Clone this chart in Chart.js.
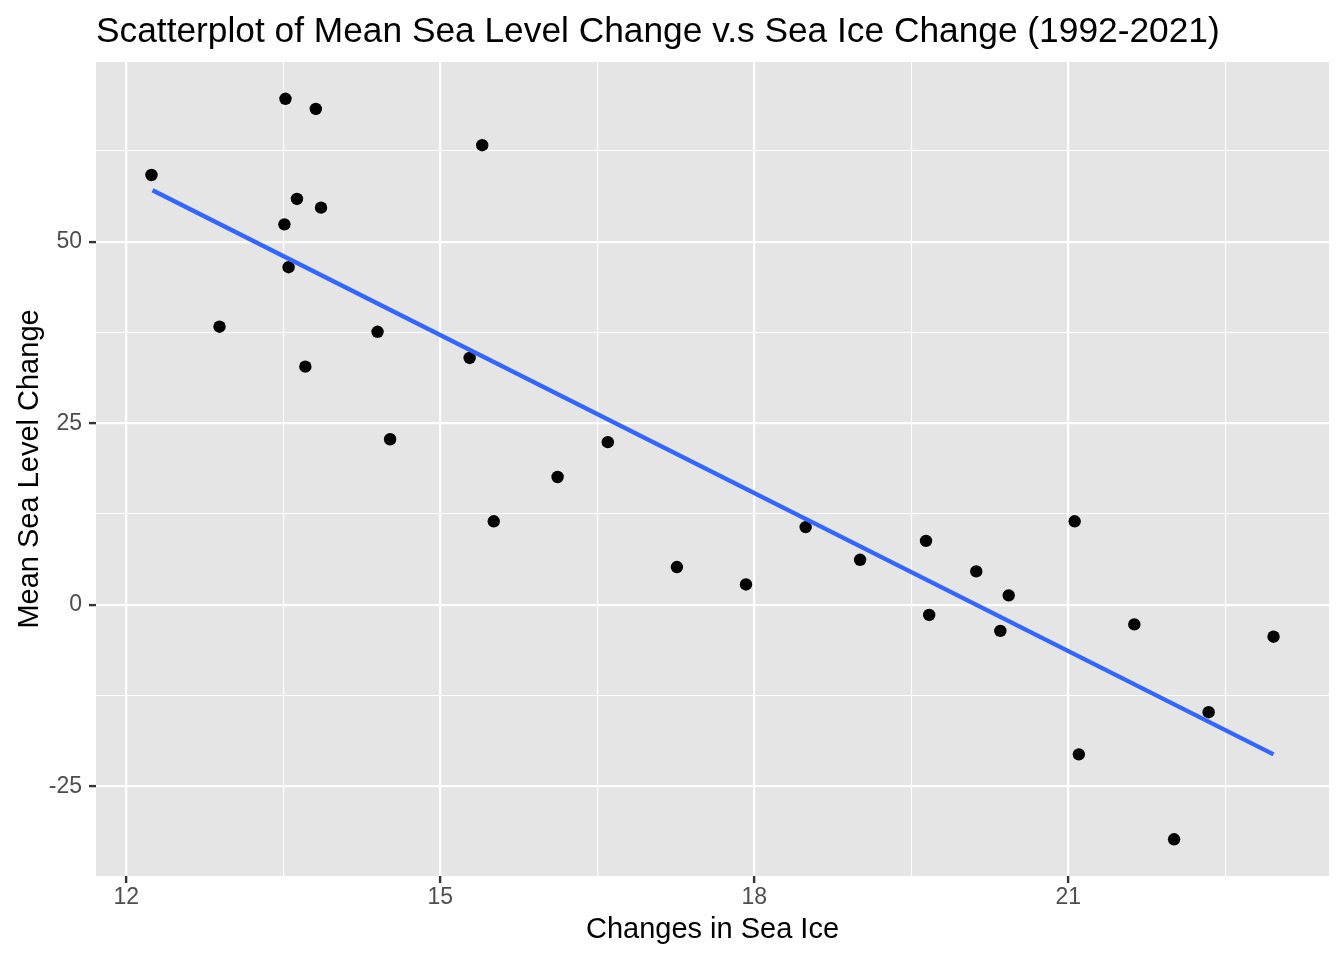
<!DOCTYPE html>
<html>
<head>
<meta charset="utf-8">
<script src="https://cdn.jsdelivr.net/npm/chart.js@4/dist/chart.umd.min.js"></script>
<style>
  html, body { margin: 0; padding: 0; background: #fff; }
  #wrap { width: 1344px; height: 960px; position: relative; }
</style>
</head>
<body>
<div id="wrap"><canvas id="chart"></canvas></div>
<script>
// values
const seaIce = [12.24, 12.89, 13.52, 13.51, 13.55, 13.63, 13.71, 13.81, 13.86, 14.40,
  14.52, 15.28, 15.40, 15.51, 16.12, 16.60, 17.26, 17.92, 18.49, 19.01,
  19.64, 19.67, 20.12, 20.35, 20.43, 21.06, 21.10, 21.63, 22.01, 22.34, 22.96];
const seaLevel = [59.2, 38.3, 69.7, 52.4, 46.5, 55.9, 32.8, 68.3, 54.7, 37.6,
  22.8, 34.0, 63.3, 11.5, 17.6, 22.4, 5.2, 2.8, 10.7, 6.2,
  8.8, -1.4, 4.6, -3.6, 1.3, 11.5, -20.6, -2.7, -32.3, -14.8, -4.4];

// fitted line end points
const fitX = [12.25, 22.96];
const fitY = [57.1, -20.6];

const xMajorTicks = [12, 15, 18, 21];
const xMinorTicks = [13.5, 16.5, 19.5, 22.5];
const yMajorTicks = [-25, 0, 25, 50];
const yMinorTicks = [-12.5, 12.5, 37.5, 62.5];

const FONT = "'Liberation Sans', Arial, Helvetica, sans-serif";
Chart.defaults.font.family = FONT;

const panelBg = {
  id: 'panelBg',
  beforeDraw(chart) {
    const { ctx, chartArea } = chart;
    ctx.save();
    ctx.fillStyle = '#E5E5E5';
    ctx.fillRect(chartArea.left, chartArea.top, chartArea.right - chartArea.left, chartArea.bottom - chartArea.top);
    ctx.restore();
  }
};

function setTicks(major, minor) {
  return function(scale) {
    scale.ticks = major.concat(minor).sort((a, b) => a - b).map(v => ({ value: v }));
  };
}

function isMajor(list) {
  return ctx => ctx.tick && list.includes(ctx.tick.value);
}

const xMaj = isMajor(xMajorTicks);
const yMaj = isMajor(yMajorTicks);

new Chart(document.getElementById('chart'), {
  type: 'scatter',
  data: {
    datasets: [
      {
        label: 'fit',
        type: 'line',
        data: fitX.map((x, i) => ({ x: x, y: fitY[i] })),
        borderColor: '#3366FF',
        borderWidth: 4.3,
        pointRadius: 0,
        fill: false,
        order: 0
      },
      {
        label: 'points',
        data: seaIce.map((x, i) => ({ x: x, y: seaLevel[i] })),
        backgroundColor: '#000000',
        borderWidth: 0,
        pointRadius: 6.2,
        order: 1
      }
    ]
  },
  options: {
    responsive: true,
    maintainAspectRatio: false,
    animation: false,
    layout: { padding: { left: 0, right: 15, top: 0, bottom: 0 } },
    plugins: {
      legend: { display: false },
      tooltip: { enabled: false },
      title: {
        display: true,
        text: 'Scatterplot of Mean Sea Level Change v.s Sea Ice Change (1992-2021)',
        align: 'start',
        fullSize: false,
        color: '#000000',
        font: { size: 35.3, weight: 'normal' },
        padding: { top: 11, bottom: 8.6 }
      }
    },
    scales: {
      x: {
        type: 'linear',
        min: 11.71,
        max: 23.49,
        afterBuildTicks: setTicks(xMajorTicks, xMinorTicks),
        afterFit: scale => { scale.height = 84; },
        border: { display: false },
        grid: {
          color: '#FFFFFF',
          lineWidth: ctx => xMaj(ctx) ? 2.2 : 1.1,
          drawTicks: true,
          tickLength: 7,
          tickWidth: 2.4,
          tickColor: ctx => xMaj(ctx) ? '#333333' : 'rgba(0,0,0,0)'
        },
        ticks: {
          autoSkip: false,
          maxRotation: 0,
          padding: 1,
          color: '#4D4D4D',
          font: { size: 23 },
          callback: v => xMajorTicks.includes(v) ? String(v) : ''
        },
        title: {
          display: true,
          text: 'Changes in Sea Ice',
          color: '#000000',
          font: { size: 29 },
          padding: { top: 0, bottom: 12.6 }
        }
      },
      y: {
        type: 'linear',
        min: -37.36,
        max: 74.77,
        afterBuildTicks: setTicks(yMajorTicks, yMinorTicks),
        afterFit: scale => { scale.width = 96; },
        border: { display: false },
        grid: {
          color: '#FFFFFF',
          lineWidth: ctx => yMaj(ctx) ? 2.2 : 1.1,
          drawTicks: true,
          tickLength: 7,
          tickWidth: 2.4,
          tickColor: ctx => yMaj(ctx) ? '#333333' : 'rgba(0,0,0,0)'
        },
        ticks: {
          autoSkip: false,
          padding: 7,
          color: '#4D4D4D',
          font: { size: 23 },
          callback: v => yMajorTicks.includes(v) ? String(v) : ''
        },
        title: {
          display: true,
          text: 'Mean Sea Level Change',
          color: '#000000',
          font: { size: 29 },
          padding: { top: 13, bottom: 0 }
        }
      }
    }
  },
  plugins: [panelBg]
});
</script>
</body>
</html>
